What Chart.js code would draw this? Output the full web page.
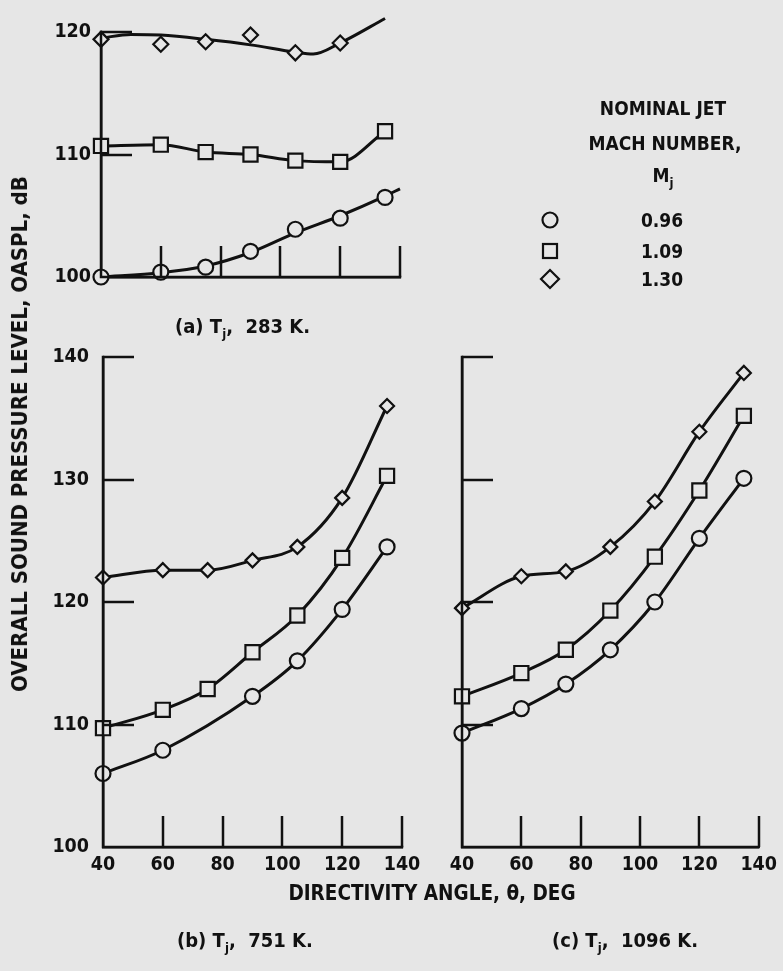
<!DOCTYPE html>
<html><head><meta charset="utf-8">
<script src="https://cdn.jsdelivr.net/npm/chart.js@4.4.1/dist/chart.umd.min.js"></script>
<style>
html,body{margin:0;padding:0;background:#e6e6e6;}
#wrap{position:relative;width:783px;height:971px;overflow:hidden;background:#e6e6e6;color:#111;
  font-family:"Liberation Sans Narrow","DejaVu Sans Condensed","Roboto",sans-serif;font-weight:bold;}
canvas{position:absolute;left:0;top:0;}
.t{position:absolute;white-space:nowrap;font-size:19px;line-height:1;}
.c{transform:translate(-50%,-50%);}
.sub{font-size:13px;position:relative;top:5px;}
svg{position:absolute;overflow:visible;}
</style></head><body>
<div id="wrap">
<canvas id="ca" width="783" height="971"></canvas>
<canvas id="cb" width="783" height="971"></canvas>
<canvas id="cc" width="783" height="971"></canvas>

<div class="t c" style="left:20px;top:434px;font-size:22px;transform:translate(-50%,-50%) rotate(-90deg);">OVERALL SOUND PRESSURE LEVEL, OASPL, dB</div>
<div class="t c" style="left:432px;top:893px;font-size:20.5px;">DIRECTIVITY ANGLE, &theta;, DEG</div>
<div class="t" style="left:175px;top:316px;font-size:20px;">(a) T<span class="sub">j</span>,&nbsp; 283 K.</div>
<div class="t" style="left:177px;top:930px;font-size:20px;">(b) T<span class="sub">j</span>,&nbsp; 751 K.</div>
<div class="t" style="left:552px;top:930px;font-size:20px;">(c) T<span class="sub">j</span>,&nbsp; 1096 K.</div>

<div class="t c" style="left:663px;top:108px;">NOMINAL JET</div>
<div class="t c" style="left:665px;top:143px;">MACH NUMBER,</div>
<div class="t c" style="left:663px;top:175px;">M<span class="sub">j</span></div>
<div class="t c" style="left:662px;top:220px;">0.96</div>
<div class="t c" style="left:662px;top:251px;">1.09</div>
<div class="t c" style="left:662px;top:279px;">1.30</div>
<svg style="left:0;top:0" width="783" height="300">
  <circle cx="550" cy="220" r="7.5" fill="none" stroke="#111" stroke-width="2.2"/>
  <rect x="543" y="244" width="14" height="14" fill="none" stroke="#111" stroke-width="2.2"/>
  <polygon points="541,279 550,270 559,279 550,288" fill="none" stroke="#111" stroke-width="2.2"/>
</svg>
</div>
<script>
// ---- data ----
const angles = [40, 60, 75, 90, 105, 120, 135];
const xTicks = [40, 60, 80, 100, 120, 140];
const yTicksA = [100, 110, 120];
const yTicksBC = [100, 110, 120, 130, 140];

// (a) Tj = 283 K
const a096 = [100.0, 100.4, 100.8, 102.1, 103.9, 104.8, 106.5];
const a109 = [110.7, 110.8, 110.2, 110.0, 109.5, 109.4, 111.9];
const a130 = [119.4, 119.0, 119.2, 119.75, 118.3, 119.1, 121.1];
// faired curves (a)
const a096CurveX = [40, 60, 75, 90, 105, 120, 135, 140];
const a096CurveY = [100.0, 100.35, 100.9, 102.0, 103.6, 105.0, 106.6, 107.2];
const a130CurveX = [40, 50, 60, 75, 90, 105, 111, 120, 135];
const a130CurveY = [119.5, 119.8, 119.75, 119.4, 118.95, 118.35, 118.2, 119.1, 121.1];

// (b) Tj = 751 K
const b096 = [106.0, 107.9, null, 112.3, 115.2, 119.4, 124.5];
const b109 = [109.7, 111.2, 112.9, 115.9, 118.9, 123.6, 130.3];
const b130 = [122.0, 122.6, 122.6, 123.4, 124.5, 128.5, 136.0];

// (c) Tj = 1096 K
const c096 = [109.3, 111.3, 113.3, 116.1, 120.0, 125.2, 130.1];
const c109 = [112.3, 114.2, 116.1, 119.3, 123.7, 129.1, 135.2];
const c130 = [119.5, 122.1, 122.5, 124.5, 128.2, 133.9, 138.7];

// ---- drawing ----
const INK = '#111111', BG = '#e6e6e6', W = 783, H = 971;
const FONT = '"Liberation Sans Narrow","DejaVu Sans Condensed","Roboto",sans-serif';

function pts(xs, ys){ const o=[]; xs.forEach((x,i)=>{ if(ys[i]!=null) o.push({x:x,y:ys[i]}); }); return o; }
function markers(data, style, r){
  return {data, showLine:false, order:0, pointStyle:style, pointRadius:r, pointHoverRadius:r,
    pointBorderWidth:2.2, pointBorderColor:INK, pointBackgroundColor:BG, clip:false};
}
function curve(data){
  return {data, showLine:true, order:1, pointRadius:0, borderColor:INK, borderWidth:3,
    cubicInterpolationMode:'monotone', clip:false, fill:false};
}

const innerTicks = {
  id:'innerTicks',
  afterDraw(chart, args, opts){
    const {ctx, chartArea:a} = chart, x = chart.scales.x, y = chart.scales.y;
    ctx.save(); ctx.strokeStyle = INK; ctx.lineWidth = 2.5; ctx.lineCap = 'square';
    ctx.beginPath(); ctx.moveTo(a.left, a.top); ctx.lineTo(a.left, a.bottom); ctx.lineTo(a.right, a.bottom); ctx.stroke();
    ctx.lineCap = 'butt';
    x.ticks.forEach(t=>{ if(t.value===x.min) return; const p=Math.round(x.getPixelForValue(t.value));
      ctx.beginPath(); ctx.moveTo(p, a.bottom); ctx.lineTo(p, a.bottom-opts.len); ctx.stroke(); });
    y.ticks.forEach(t=>{ if(t.value===y.min) return; const p=Math.round(y.getPixelForValue(t.value));
      ctx.beginPath(); ctx.moveTo(a.left, p); ctx.lineTo(a.left+opts.len, p); ctx.stroke(); });
    ctx.restore();
  }
};

function makeChart(id, area, yMax, yTicks, showY, showX, yPad, datasets){
  const yw = 70, xh = 40;
  return new Chart(document.getElementById(id), {
    type:'scatter',
    data:{datasets},
    options:{
      responsive:false, animation:false, events:[],
      layout:{padding:{left:area.l-yw, right:W-area.r, top:area.t, bottom:H-area.b-xh}},
      plugins:{legend:{display:false}, tooltip:{enabled:false}, innerTicks:{len:31}},
      scales:{
        x:{type:'linear', min:40, max:140,
          afterFit(s){ s.height = xh; },
          afterBuildTicks(s){ s.ticks = xTicks.map(v=>({value:v})); },
          grid:{display:false, drawTicks:false}, border:{display:true, color:INK, width:2.5},
          ticks:{display:showX, padding:6, color:INK, font:{family:FONT, size:19.5, weight:'bold'}}},
        y:{type:'linear', min:100, max:yMax,
          afterFit(s){ s.width = yw; },
          afterBuildTicks(s){ s.ticks = yTicks.map(v=>({value:v})); },
          grid:{display:false, drawTicks:false}, border:{display:true, color:INK, width:2.5},
          ticks:{display:showY, padding:yPad, color:INK, font:{family:FONT, size:19.5, weight:'bold'}}}
      }
    },
    plugins:[innerTicks]
  });
}

// panel (a)
makeChart('ca', {l:101, r:400, t:32, b:277}, 120, yTicksA, true, false, 10, [
  markers(pts(angles, a096), 'circle', 7.5),
  markers(pts(angles, a109), 'rect', 10),
  markers(pts(angles, a130), 'rectRot', 7.5),
  curve(pts(a096CurveX, a096CurveY)),
  curve(pts(angles, a109)),
  curve(pts(a130CurveX, a130CurveY))
]);
// panel (b)
makeChart('cb', {l:103, r:402, t:357, b:847}, 140, yTicksBC, true, true, 14, [
  markers(pts(angles, b096), 'circle', 7.5),
  markers(pts(angles, b109), 'rect', 10),
  markers(pts(angles, b130), 'rectRot', 7),
  curve(pts(angles, b096)),
  curve(pts(angles, b109)),
  curve(pts(angles, b130))
]);
// panel (c)
makeChart('cc', {l:462, r:763, t:357, b:847}, 140, yTicksBC, false, true, 14, [
  markers(pts(angles, c096), 'circle', 7.5),
  markers(pts(angles, c109), 'rect', 10),
  markers(pts(angles, c130), 'rectRot', 7),
  curve(pts(angles, c096)),
  curve(pts(angles, c109)),
  curve(pts(angles, c130))
]);
</script>
</body></html>
